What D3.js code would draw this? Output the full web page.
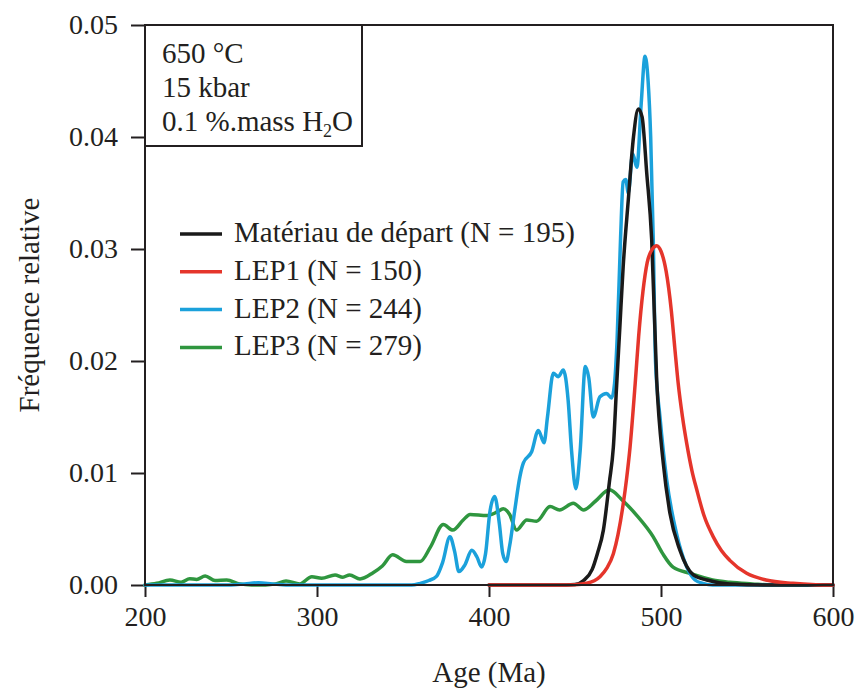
<!DOCTYPE html>
<html>
<head>
<meta charset="utf-8">
<script src="https://cdn.jsdelivr.net/npm/d3@7/dist/d3.min.js"></script>
<style>
  html, body { margin: 0; padding: 0; background: #fff; }
  svg { display: block; }
  text { font-family: "Liberation Serif", "Times New Roman", serif; fill: #231f20; }
</style>
</head>
<body>
<svg id="chart" width="855" height="690"></svg>
<script>
// ---------- data ----------
const xTicks = [200, 300, 400, 500, 600];
const yTicks = [0.00, 0.01, 0.02, 0.03, 0.04, 0.05];

const seriesNames = ["Matériau de départ (N = 195)", "LEP1 (N = 150)", "LEP2 (N = 244)", "LEP3 (N = 279)"];
const seriesColors = ["#1a1a1a", "#e5352b", "#1ba1db", "#2f963f"];

const startAges = [400, 440, 450, 455, 460, 463, 466.5, 470, 472.3, 474.2, 476, 478, 481, 484, 486.8, 489, 491.7, 494.6, 497.5, 501.3, 505.2, 511, 518.8, 526.6, 540, 560, 600];
const startVals = [0, 0, 0.00005, 0.0004, 0.0014, 0.0028, 0.0049, 0.0092, 0.0123, 0.0178, 0.0228, 0.0284, 0.0344, 0.0400, 0.0425, 0.0418, 0.0368, 0.0308, 0.0183, 0.0109, 0.0064, 0.0031, 0.0009, 0.00045, 0.0001, 0, 0];

const lep1Ages = [400, 440, 450, 456.8, 464.5, 468.5, 472.3, 475, 478, 480, 482, 485, 487, 489.5, 492, 495, 497.5, 500, 503, 506, 508, 510, 512.5, 515, 518, 520.8, 525, 530.4, 535, 540, 549.8, 561, 576.7, 590, 600];
const lep1Vals = [0, 0, 0.00003, 0.00015, 0.00074, 0.0015, 0.0028, 0.0045, 0.0072, 0.0095, 0.0123, 0.0180, 0.0222, 0.0262, 0.0288, 0.0300, 0.0303, 0.0298, 0.0280, 0.0245, 0.0212, 0.0180, 0.0150, 0.0126, 0.0102, 0.0085, 0.0062, 0.0043, 0.0031, 0.0022, 0.00104, 0.00045, 0.00015, 0.00003, 0];

const lep2Ages = [200, 250, 258, 266, 274, 282, 355, 360, 365, 369.6, 373, 377.3, 380, 382.5, 386, 390, 393, 395.7, 398, 400.5, 403.3, 406, 408, 410, 412, 415, 418, 420, 424.8, 428.7, 432, 434, 437.4, 440.3, 443.2, 446, 448, 450.5, 453, 456, 458, 460.6, 464.5, 468.4, 471.3, 473, 474.5, 476.5, 478, 479.5, 481, 483.5, 486, 488.5, 490.7, 492.5, 494, 495.5, 496.8, 499.4, 503.3, 509, 515, 519.8, 524.4, 530, 600];
const lep2Vals = [0, 0, 0.0001, 0.0002, 0.0001, 0, 0, 0.00015, 0.0004, 0.0008, 0.0020, 0.0043, 0.0030, 0.0012, 0.0018, 0.0031, 0.0025, 0.0016, 0.0028, 0.0065, 0.0079, 0.0055, 0.0028, 0.0021, 0.0035, 0.0067, 0.0097, 0.0109, 0.0119, 0.0138, 0.0127, 0.0150, 0.0189, 0.0186, 0.0192, 0.0165, 0.0120, 0.0086, 0.0120, 0.0195, 0.0185, 0.0150, 0.0168, 0.0171, 0.0167, 0.0180, 0.0220, 0.0310, 0.0360, 0.0362, 0.0350, 0.0385, 0.0373, 0.0430, 0.0472, 0.0450, 0.0400, 0.0308, 0.0200, 0.0150, 0.0094, 0.0046, 0.0016, 0.00045, 0.00015, 0, 0];

const lep3Ages = [200, 206.8, 214.5, 221, 226, 230, 235, 240.7, 247.5, 255, 262, 270, 276, 282, 290, 297, 302.7, 310.5, 315, 319, 325, 332.6, 338, 344, 352, 360, 366, 373.4, 379, 385, 389, 398.7, 404.5, 408.3, 412, 416, 422, 427.7, 435.5, 441, 449, 455, 462, 470, 478, 486, 495.5, 501, 507, 517, 530, 540, 553, 565, 600];
const lep3Vals = [0, 0.00015, 0.00045, 0.00025, 0.00056, 0.0005, 0.0008, 0.0004, 0.00045, 0.0001, 0, 0, 0.0001, 0.00036, 0.0001, 0.00074, 0.0006, 0.0009, 0.0007, 0.0009, 0.00054, 0.0011, 0.0017, 0.0027, 0.0021, 0.0021, 0.0034, 0.0054, 0.0049, 0.0058, 0.0063, 0.0062, 0.0065, 0.0068, 0.0063, 0.0049, 0.0058, 0.0057, 0.0070, 0.0067, 0.0073, 0.0067, 0.0075, 0.0085, 0.0075, 0.0062, 0.0043, 0.0028, 0.0016, 0.00104, 0.00045, 0.00024, 0.0001, 0, 0];

const boxLines = ["650 °C", "15 kbar"];

// ---------- layout ----------
const svg = d3.select("#chart");
const L = 145, R = 833, T = 25, B = 585;
const x = d3.scaleLinear().domain([200, 600]).range([L, R]);
const y = d3.scaleLinear().domain([0, 0.05]).range([B, T]);
const FS = 28, FS2 = 29;

// axes
const xAxis = svg.append("g").attr("transform", `translate(0,${B})`)
  .call(d3.axisBottom(x).tickValues(xTicks).tickSize(12).tickPadding(9).tickFormat(d3.format("d")));
const yAxis = svg.append("g").attr("transform", `translate(${L},0)`)
  .call(d3.axisLeft(y).tickValues(yTicks).tickSize(14).tickPadding(13).tickFormat(d3.format(".2f")));
[xAxis, yAxis].forEach(g => {
  g.select(".domain").remove();
  g.selectAll(".tick line").attr("stroke", "#231f20").attr("stroke-width", 2);
  g.selectAll(".tick text").style("font-family", '"Liberation Serif", serif').style("font-size", FS + "px").attr("fill", "#231f20");
});

// series
const series = [
  {ages: lep3Ages, vals: lep3Vals, c: seriesColors[3]},
  {ages: lep2Ages, vals: lep2Vals, c: seriesColors[2]},
  {ages: startAges, vals: startVals, c: seriesColors[0]},
  {ages: lep1Ages, vals: lep1Vals, c: seriesColors[1]}
];
const line = d3.line().x(d => x(d[0])).y(d => y(d[1])).curve(d3.curveMonotoneX);
series.forEach(s => {
  svg.append("path")
    .datum(s.ages.map((a, i) => [a, s.vals[i]]))
    .attr("d", line)
    .attr("fill", "none")
    .attr("stroke", s.c)
    .attr("stroke-width", 3.5)
    .attr("stroke-linejoin", "round")
    .attr("stroke-linecap", "round");
});

// frame
svg.append("rect").attr("x", L).attr("y", T).attr("width", R - L).attr("height", B - T)
  .attr("fill", "none").attr("stroke", "#231f20").attr("stroke-width", 2);

// annotation box
svg.append("rect").attr("x", L).attr("y", T).attr("width", 362 - L).attr("height", 146 - T)
  .attr("fill", "none").attr("stroke", "#231f20").attr("stroke-width", 2);
boxLines.forEach((t, i) => {
  svg.append("text").attr("x", 162).attr("y", 63 + i * 34).style("font-size", FS2 + "px").text(t);
});
const t3 = svg.append("text").attr("x", 162).attr("y", 131).style("font-size", FS2 + "px");
t3.append("tspan").text("0.1 %.mass H");
t3.append("tspan").attr("dy", 6).style("font-size", "18px").text("2");
t3.append("tspan").attr("dy", -6).text("O");

// legend
const legendOrder = [0, 1, 2, 3];
legendOrder.forEach((k, i) => {
  const by = 242 + i * 37.8;
  svg.append("line").attr("x1", 180).attr("x2", 222).attr("y1", by - 8).attr("y2", by - 8)
    .attr("stroke", seriesColors[k]).attr("stroke-width", 3.5);
  svg.append("text").attr("x", 234).attr("y", by).style("font-size", FS2 + "px").text(seriesNames[k]);
});

// axis titles
svg.append("text").attr("x", (L + R) / 2).attr("y", 682).attr("text-anchor", "middle")
  .style("font-size", FS2 + "px").text("Age (Ma)");
svg.append("text").attr("transform", `translate(39,305) rotate(-90)`).attr("text-anchor", "middle")
  .style("font-size", FS2 + "px").text("Fréquence relative");
</script>
</body>
</html>
